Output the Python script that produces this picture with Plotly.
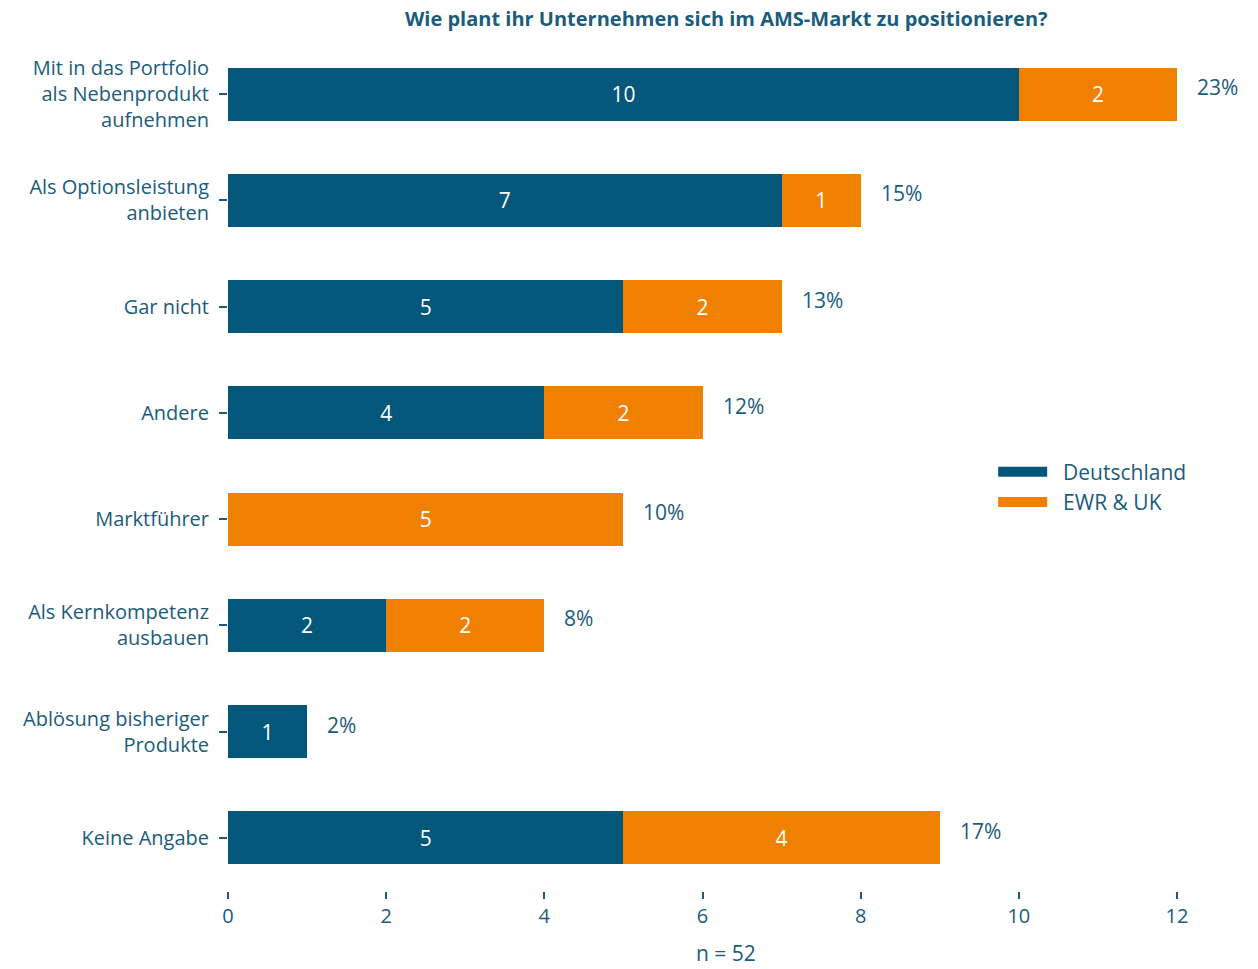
import plotly.graph_objects as go

categories = [
    "Mit in das Portfolio<br>als Nebenprodukt<br>aufnehmen",
    "Als Optionsleistung<br>anbieten",
    "Gar nicht",
    "Andere",
    "Marktführer",
    "Als Kernkompetenz<br>ausbauen",
    "Ablösung bisheriger<br>Produkte",
    "Keine Angabe",
]
deutschland = [10, 7, 5, 4, 0, 2, 1, 5]
ewr_uk = [2, 1, 2, 2, 5, 2, 0, 4]
percent_labels = ["23%", "15%", "13%", "12%", "10%", "8%", "2%", "17%"]
x_ticks = [0, 2, 4, 6, 8, 10, 12]
series_names = ["Deutschland", "EWR & UK"]

TEAL = "#03577A"
ORANGE = "#F08100"
TXT = "#1B5C7C"
FONT = "Open Sans"

fig = go.Figure()
for name, vals, col in zip(series_names, [deutschland, ewr_uk], [TEAL, ORANGE]):
    fig.add_trace(go.Bar(
        y=categories, x=vals, orientation="h", name=name, showlegend=False,
        marker=dict(color=col, line=dict(width=0)), width=0.5,
        text=[str(v) if v else "" for v in vals], textposition="inside",
        insidetextanchor="middle", textangle=0,
        textfont=dict(color="white", size=21, family=FONT),
    ))
# legend entries with wide swatches
for name, col in zip(series_names, [TEAL, ORANGE]):
    fig.add_trace(go.Scatter(
        x=[None], y=[None], mode="lines", name="\u00a0\u00a0" + name,
        line=dict(color=col, width=17), showlegend=True, hoverinfo="skip",
    ))

totals = [d + e for d, e in zip(deutschland, ewr_uk)]
for c, t, p in zip(categories, totals, percent_labels):
    fig.add_annotation(x=t, y=c, xref="x", yref="y", text=p, showarrow=False,
                       xanchor="left", yanchor="middle", xshift=18, yshift=7,
                       font=dict(color=TXT, size=21, family=FONT))

fig.add_annotation(x=0.525, y=1.026, xref="paper", yref="paper",
                   text="<b>Wie plant ihr Unternehmen sich im AMS-Markt zu positionieren?</b>",
                   showarrow=False, xanchor="center", yanchor="middle",
                   font=dict(color=TXT, size=20, family=FONT))
fig.add_annotation(x=0.525, y=-0.073, xref="paper", yref="paper", text="n = 52",
                   showarrow=False, xanchor="center", yanchor="middle",
                   font=dict(color=TXT, size=21, family=FONT))

fig.update_layout(
    width=1258, height=969,
    barmode="stack",
    plot_bgcolor="white", paper_bgcolor="white",
    margin=dict(l=228, r=81, t=41, b=78),
    font=dict(family=FONT, color=TXT, size=21),
    showlegend=True,
    legend=dict(x=0.8063, y=0.517, xanchor="left", yanchor="top", traceorder="normal",
                itemwidth=49,
                font=dict(size=21, color=TXT, family=FONT), bgcolor="rgba(0,0,0,0)"),
    xaxis=dict(range=[0, 12], tickvals=x_ticks, showgrid=False, zeroline=False,
               showline=False, ticks="outside", ticklen=7, tickcolor=TXT, tickwidth=2,
               tickfont=dict(size=20, color=TXT, family=FONT)),
    yaxis=dict(categoryorder="array", categoryarray=categories[::-1],
               showgrid=False, zeroline=False, showline=False, ticks="outside",
               ticklen=8, tickcolor=TXT, tickwidth=2, ticklabelstandoff=6,
               tickfont=dict(size=20, color=TXT, family=FONT)),
)

fig.write_html("out.html")
